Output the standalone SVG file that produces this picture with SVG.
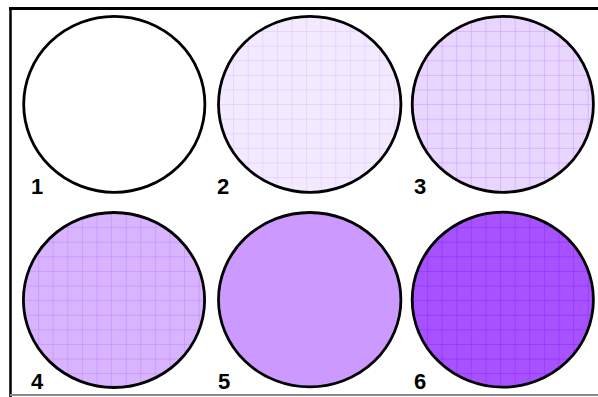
<svg xmlns="http://www.w3.org/2000/svg" width="598" height="397" viewBox="0 0 598 397">
<style>
.c{stroke:#000;stroke-width:2.8}
.lb{font-family:"Liberation Sans",Arial,sans-serif;font-weight:bold;font-size:22px;fill:#000}
</style>
<defs>
<pattern id="g2" patternUnits="userSpaceOnUse" x="218.5" y="16.5" width="14.6" height="14.6"><rect width="14.6" height="14.6" fill="#f4eaff"/><path d="M0 0H14.6M0 0V14.6" stroke="#dcbfff" stroke-width="1" fill="none"/></pattern>
<pattern id="g3" patternUnits="userSpaceOnUse" x="412.5" y="16.5" width="14.6" height="14.6"><rect width="14.6" height="14.6" fill="#e8d6ff"/><path d="M0 0H14.6M0 0V14.6" stroke="#c995ff" stroke-width="1" fill="none"/></pattern>
<pattern id="g4" patternUnits="userSpaceOnUse" x="23.5" y="212.5" width="14.6" height="14.6"><rect width="14.6" height="14.6" fill="#d8b4ff"/><path d="M0 0H14.6M0 0V14.6" stroke="#c082ff" stroke-width="1" fill="none"/></pattern>
<pattern id="g6" patternUnits="userSpaceOnUse" x="412.5" y="212.5" width="14.6" height="14.6"><rect width="14.6" height="14.6" fill="#a752ff"/><path d="M0 0H14.6M0 0V14.6" stroke="#9430ff" stroke-width="1.3" fill="none"/></pattern>
</defs>
<rect width="598" height="397" fill="#fff"/>
<g id="frame">
<line x1="9" y1="8.5" x2="598" y2="8.5" stroke="#000" stroke-width="3"/>
<line x1="10.5" y1="8" x2="10.5" y2="397" stroke="#000" stroke-width="2.5"/>
<line x1="10" y1="395" x2="598" y2="395" stroke="#8a8a8a" stroke-width="2"/>
</g>
<g id="n1"><ellipse class="c" cx="114.3" cy="104.3" rx="90.6" ry="88" fill="#fff"/><text class="lb" x="31" y="193.5">1</text></g>
<g id="n2"><ellipse class="c" cx="309.7" cy="104.3" rx="91.2" ry="88" fill="url(#g2)"/><text class="lb" x="217" y="193.5">2</text></g>
<g id="n3"><ellipse class="c" cx="502.8" cy="104.3" rx="90.6" ry="88" fill="url(#g3)"/><text class="lb" x="414" y="193.5">3</text></g>
<g id="n4"><ellipse class="c" cx="114" cy="300" rx="90.6" ry="87.5" fill="url(#g4)"/><text class="lb" x="31" y="388.5">4</text></g>
<g id="n5"><ellipse class="c" cx="309.7" cy="299.7" rx="91.2" ry="87.2" fill="#cc99ff"/><text class="lb" x="218" y="388.5">5</text></g>
<g id="n6"><ellipse class="c" cx="502.8" cy="299.7" rx="90.6" ry="87.5" fill="url(#g6)"/><text class="lb" x="414" y="388.5">6</text></g>
<g id="connectors"/>
</svg>
